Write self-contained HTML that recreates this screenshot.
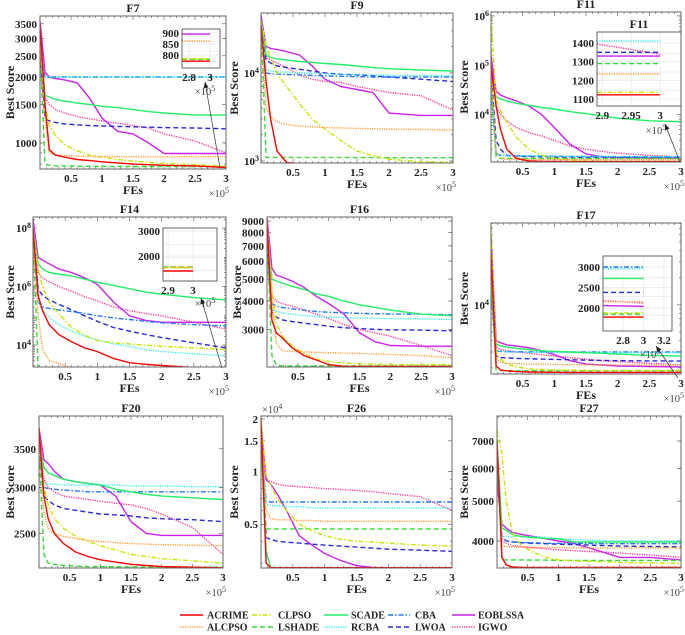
<!DOCTYPE html>
<html><head><meta charset="utf-8"><style>
html,body{margin:0;padding:0;background:#fff;}
svg{display:block;font-family:"Liberation Serif",serif;font-weight:bold;}
</style></head><body>
<svg id="fig" width="685" height="635" viewBox="0 0 685 635" xmlns="http://www.w3.org/2000/svg"></svg>
<script>
const seriesNames = ["ACRIME","ALCPSO","CLPSO","LSHADE","SCADE","RCBA","CBA","LWOA","EOBLSSA","IGWO"];
const xSamples = [0,0.08,0.15,0.25,0.4,0.6,0.8,1,1.25,1.5,1.75,2,2.5,3];
const xTickVals = [0.5,1,1.5,2,2.5,3];
const xTickLabels = ["0.5","1","1.5","2","2.5","3"];

const f7Values = [
[3500,1500,930,880,860,840,830,820,810,800,795,790,785,772],
[3000,1300,900,880,875,870,868,866,865,865,864,864,864,864],
[3000,1500,1200,1080,980,920,880,860,840,825,815,805,795,783],
[2800,800,790,785,785,783,782,781,781,780,780,780,780,780],
[3000,1650,1620,1580,1550,1520,1500,1470,1450,1420,1390,1370,1340,1340],
[2200,2000,2000,2000,2000,2000,2000,2000,2000,2000,2000,2000,2000,2000],
[2600,2000,2000,2000,2000,2000,2000,2000,2000,2000,2000,2000,2000,2000],
[2500,1300,1260,1240,1220,1210,1200,1195,1190,1185,1180,1175,1170,1160],
[3600,2100,2000,1970,1940,1880,1600,1300,1130,1100,1000,895,895,895],
[3000,1600,1500,1420,1370,1320,1290,1260,1230,1200,1170,1100,1020,900]];
const f9Values = [
[35000,8000,3000,1300,960,940,940,940,940,940,940,940,940,940],
[40000,4000,3200,2800,2600,2500,2450,2400,2380,2350,2330,2300,2280,2250],
[40000,20000,15000,10000,7000,4500,3000,2300,1700,1300,1150,1050,980,960],
[40000,1100,1100,1100,1100,1100,1100,1100,1100,1095,1095,1090,1090,1090],
[40000,16000,15000,14500,14000,13500,13200,12800,12500,12000,11500,11200,10800,10500],
[30000,11000,10500,10300,10200,10000,10000,9800,9700,9600,9500,9400,9400,9300],
[30000,10000,9800,9700,9600,9500,9400,9300,9200,9100,9000,9000,9000,9000],
[30000,14000,13000,12000,11500,11000,10500,10000,9700,9500,9300,9000,8500,8000],
[45000,20000,19000,18500,17500,16000,12000,8500,7000,6500,6000,3500,3300,3300],
[45000,15000,14000,13000,11500,9500,8500,8000,7800,7000,6500,6000,5500,3800]];
const f11Values = [
[100000,15000,5000,2000,1300,1150,1130,1125,1122,1122,1122,1122,1122,1122],
[80000,1800,1300,1250,1240,1238,1237,1236,1235,1235,1235,1235,1235,1235],
[1000000,20000,12000,7000,3500,2000,1500,1300,1200,1150,1140,1135,1135,1135],
[50000,1400,1300,1300,1300,1295,1295,1290,1290,1290,1290,1290,1290,1290],
[50000,23000,21000,19000,17000,15500,14000,13000,11500,10500,9500,8500,7500,7200],
[30000,1700,1500,1480,1470,1460,1450,1440,1430,1420,1420,1410,1410,1410],
[30000,1600,1500,1480,1470,1460,1450,1440,1430,1420,1420,1410,1400,1400],
[80000,3000,2000,1500,1450,1420,1400,1390,1380,1370,1365,1360,1355,1350],
[150000,30000,25000,22000,19000,15000,10000,5500,2500,1600,1400,1350,1330,1330],
[200000,15000,10000,7500,5500,4300,3700,3000,2300,2000,1800,1650,1500,1400]];
const f14Values = [
[1e8,5e5,1.5e5,5e4,2.3e4,1.3e4,8e3,6e3,3.5e3,2.5e3,2.2e3,2e3,1.7e3,1.4e3],
[1e8,1e5,7e3,3e3,2.3e3,1.7e3,1.6e3,1.6e3,1.55e3,1.55e3,1.55e3,1.55e3,1.55e3,1.55e3],
[1e8,4e6,1e6,3e5,1.2e5,4e4,2.2e4,1.4e4,1.2e4,1.1e4,1e4,9e3,8e3,7e3],
[1e8,1.6e3,1.56e3,1.56e3,1.56e3,1.56e3,1.56e3,1.56e3,1.56e3,1.56e3,1.56e3,1.56e3,1.56e3,1.56e3],
[1e8,6e6,4e6,3e6,2.7e6,2.3e6,1.8e6,1.4e6,1.1e6,8.5e5,6.5e5,5.5e5,4.2e5,3.5e5],
[1e8,3e5,1.5e5,9e4,5e4,3e4,2e4,1.5e4,1.1e4,9e3,7e3,6e3,5e3,4.3e3],
[1e8,3e5,2e5,1.8e5,1.6e5,1.4e5,1.2e5,1e5,8.5e4,7.5e4,6.5e4,5.8e4,5e4,4.5e4],
[1e8,8e5,5e5,3.5e5,2.5e5,1.6e5,1e5,6.5e4,4e4,3e4,2.3e4,1.8e4,1.2e4,8e3],
[2e8,1e7,8e6,6e6,4e6,3e6,2e6,1.2e6,3e5,1e5,7e4,6e4,6e4,6e4],
[2e8,3e6,2e6,1.5e6,1e6,7e5,4.5e5,3.3e5,2e5,1.5e5,1.2e5,1e5,6e4,3.5e4]];
const f16Values = [
[9000,3300,2900,2750,2500,2300,2200,2100,2060,2060,2060,2060,2060,2060],
[9000,4200,2600,2420,2400,2390,2380,2370,2360,2350,2340,2330,2300,2250],
[9000,4500,3200,2800,2550,2350,2220,2170,2130,2120,2110,2100,2100,2100],
[8000,2300,2100,2070,2070,2070,2070,2070,2070,2070,2070,2070,2070,2070],
[8000,5000,4900,4800,4650,4500,4300,4200,4000,3850,3750,3650,3500,3450],
[6000,3700,3600,3550,3500,3450,3420,3400,3380,3370,3360,3350,3340,3320],
[6000,3900,3800,3750,3700,3650,3600,3570,3550,3530,3520,3510,3500,3480],
[7000,3500,3400,3300,3250,3200,3150,3100,3050,3030,3000,2990,2980,2960],
[9300,5600,5200,5100,4900,4600,4200,3900,3500,2900,2650,2550,2530,2530],
[9000,4200,4000,3900,3800,3650,3500,3350,3150,3000,2900,2800,2550,2300]];
const f17Values = [
[40000,2100,1900,1850,1820,1800,1790,1785,1780,1780,1780,1780,1780,1780],
[40000,2600,2300,2250,2230,2200,2190,2180,2170,2165,2160,2155,2150,2150],
[80000,3000,2500,2200,2050,1950,1920,1900,1890,1880,1875,1870,1870,1870],
[20000,1900,1870,1860,1860,1855,1855,1850,1850,1850,1850,1850,1850,1850],
[20000,3700,3500,3400,3300,3200,3100,3050,3000,2950,2900,2850,2750,2700],
[15000,3100,3050,3000,2990,2980,2975,2970,2965,2960,2960,2955,2950,2950],
[15000,3100,3050,3030,3020,3015,3010,3010,3005,3005,3000,3000,3000,3000],
[15000,2700,2600,2580,2550,2520,2500,2480,2460,2440,2420,2400,2390,2380],
[60000,4000,3800,3600,3500,3350,3100,2800,2400,2200,2150,2100,2070,2050],
[60000,3400,3200,3100,3000,2900,2800,2700,2600,2500,2400,2350,2250,2150]];
const f20Values = [
[3800,2900,2650,2500,2400,2320,2280,2250,2230,2210,2200,2190,2185,2180],
[3800,2700,2550,2500,2470,2450,2430,2420,2410,2400,2395,2390,2385,2380],
[3800,3000,2800,2650,2550,2470,2420,2380,2340,2300,2280,2260,2240,2220],
[3500,2300,2220,2210,2200,2195,2190,2190,2188,2187,2186,2185,2185,2185],
[3600,3250,3180,3150,3100,3070,3050,3030,2980,2950,2920,2900,2880,2860],
[3100,3050,3040,3040,3030,3030,3030,3030,3030,3020,3020,3020,3010,3010],
[3400,3000,2990,2980,2970,2960,2950,2950,2950,2950,2950,2950,2950,2950],
[3500,2900,2850,2800,2760,2740,2720,2700,2690,2680,2660,2650,2640,2620],
[3800,3350,3300,3200,3100,3070,3050,3030,2900,2620,2500,2480,2480,2480],
[3700,3100,3000,2950,2900,2880,2860,2840,2820,2800,2760,2700,2560,2300]];
const f26Values = [
[20000,3000,2820,2820,2820,2820,2820,2820,2820,2820,2820,2820,2820,2820],
[19000,6000,5400,5300,5300,5250,5250,5200,5200,5200,5200,5200,5200,5200],
[20000,9500,8500,7000,6000,5000,4600,4300,4100,4000,3950,3900,3800,3750],
[15000,4700,4700,4700,4700,4700,4700,4700,4700,4700,4700,4700,4700,4700],
[15000,3500,2830,2820,2820,2820,2820,2820,2820,2820,2820,2820,2820,2820],
[15000,6500,6400,6400,6300,6300,6200,6200,6200,6200,6200,6200,6200,6200],
[15000,6800,6700,6700,6700,6700,6700,6700,6700,6700,6700,6700,6700,6700],
[15000,4200,4100,4000,3950,3900,3850,3800,3750,3700,3650,3600,3550,3500],
[18000,9000,8500,7500,6000,4300,3800,3400,3100,2900,2830,2820,2820,2820],
[19000,9000,8800,8500,8300,8200,8100,8000,7900,7800,7700,7500,7200,6000]];
const f27Values = [
[7000,3650,3500,3460,3450,3450,3450,3450,3450,3450,3450,3450,3450,3450],
[6500,3900,3880,3870,3860,3860,3855,3855,3850,3850,3850,3850,3850,3850],
[7500,6500,5000,4200,3900,3750,3650,3600,3580,3570,3560,3550,3540,3530],
[7000,3600,3600,3600,3600,3595,3595,3590,3590,3590,3590,3590,3590,3590],
[7000,4300,4250,4150,4100,4080,4060,4050,3980,3980,3980,3980,3980,3980],
[6000,4100,4100,4100,4100,4100,4080,4060,4030,4020,4010,4000,4000,4000],
[6000,4050,4000,3980,3970,3960,3950,3950,3950,3950,3940,3940,3940,3940],
[6000,4100,4000,3980,3960,3950,3940,3930,3920,3910,3900,3890,3880,3870],
[5500,4400,4300,4200,4150,4100,4050,4000,3950,3850,3750,3650,3650,3600],
[6500,4000,3950,3900,3880,3850,3830,3810,3790,3770,3760,3740,3700,3650]];

const f7Inset = [[772,772],[864,864],[783,783],[780,780],null,null,null,null,[895,895],null];
const f11Inset = [[1122,1122],[1235,1235],[1135,1135],[1290,1290],null,[1410,1410],null,[1350,1350],[1330,1330],[1395,1340]];
const f14Inset = [[1400,1400],[1550,1550],[1530,1530],[1560,1560],null,null,null,null,null,null];
const f17Inset = [[1780,1780],[2150,2150],[1880,1880],[1850,1850],[2720,2720],[2960,2960],[3000,3000],[2380,2380],[2060,2040],[2180,2120]];

const colors = ["#ff0000","#ff9933","#c8e600","#33dd33","#22ee66","#33eeee","#2277ff","#2a2ad8","#cc22ee","#ff3399"];
const dashes = ["", "1.2 1.2", "5 2 1.5 2", "5 3", "", "1.2 1.2", "5 2 1.5 2", "5 3", "", "1.2 1.2"];

const NS="http://www.w3.org/2000/svg";
const svg=document.getElementById('fig');
function el(tag,attrs,parent){const e=document.createElementNS(NS,tag);for(const k in attrs)e.setAttribute(k,attrs[k]);(parent||svg).appendChild(e);return e;}
function txt(s,x,y,size,anchor,parent){const t=el('text',{x:x,y:y,'font-size':size,'text-anchor':anchor||'middle',fill:'#222'},parent);t.textContent=s;return t;}
function pow10Label(g,exp,x,y){const t=el('text',{x:x,y:y,'font-size':11,'text-anchor':'end',fill:'#222'},g);
  
  
  const a=el('tspan',{},t);a.textContent='10';const b=el('tspan',{dy:-4,'font-size':8},t);b.textContent=String(exp);}

const panels=[
 {id:'F7',L:40,R:226,T:16,B:169,ymin:760,ymax:3800,yt:[1000,1500,2000,2500,3000,3500],fmt:'plain',vals:f7Values,ylx:10,
  inset:{L:182,R:220,T:29,B:68,xmin:2.733,xmax:3.095,ymin:741,ymax:918,yt:[800,850,900],xt:[2.8,3],xl:["2.8","3"],vals:f7Inset,xs:205,ys:95,arrow:[220,168,205,82]}},
 {id:'F9',L:261,R:453,T:13,B:163,ymin:950,ymax:48000,yt:[1000,10000],fmt:'pow',vals:f9Values,ylx:234},
 {id:'F11',L:491,R:681,T:12,B:162,ymin:1100,ymax:1200000,yt:[1e4,1e5,1e6],fmt:'pow',vals:f11Values,ylx:464,
  inset:{L:597,R:681,T:32,B:106,xmin:2.891,xmax:3.036,ymin:1062,ymax:1459,yt:[1100,1200,1300,1400],xt:[2.9,2.95,3],xl:["2.9","2.95","3"],vals:f11Inset,xs:656,ys:134,arrow:[680,162,665,124],title:'F11'}},
 {id:'F14',L:33,R:226,T:217,B:367,ymin:1780,ymax:2.4e8,yt:[1e4,1e6,1e8],fmt:'pow',vals:f14Values,ylx:10,
  inset:{L:163,R:217,T:228,B:281,xmin:2.88,xmax:3.096,ymin:1000,ymax:3120,yt:[2000,3000],xt:[2.9,3],xl:["2.9","3"],vals:f14Inset,xs:205,ys:307,arrow:[222,368,201,298]}},
 {id:'F16',L:267,R:452,T:217,B:367,ymin:2050,ymax:9380,yt:[3000,4000,5000,6000,7000,8000,9000],fmt:'plain',vals:f16Values,ylx:237},
 {id:'F17',L:491,R:681,T:223,B:374,ymin:1710,ymax:81000,yt:[1e4],fmt:'pow',vals:f17Values,ylx:464,
  inset:{L:603,R:672,T:256,B:331,xmin:2.605,xmax:3.278,ymin:1439,ymax:3268,yt:[2000,2500,3000],xt:[2.8,3,3.2],xl:["2.8","3","3.2"],vals:f17Inset,xs:650,ys:358,arrow:[678,378,656,346]}},
 {id:'F20',L:39,R:223,T:416,B:568,ymin:2178,ymax:3988,yt:[2500,3000,3500],fmt:'plain',vals:f20Values,ylx:10},
 {id:'F26',L:261,R:452,T:416,B:568,ymin:2810,ymax:20800,yt:[5000,10000,15000,20000],fmt:'e4',vals:f26Values,ylx:234},
 {id:'F27',L:497,R:681,T:416,B:568,ymin:3440,ymax:8050,yt:[4000,5000,6000,7000],fmt:'plain',vals:f27Values,ylx:464}
];

function drawPanel(p,pi){
  const g=el('g',{});
  
  
  const lmin=Math.log10(p.ymin),lmax=Math.log10(p.ymax);
  const sx=x=>p.L+x/3*(p.R-p.L);
  const sy=v=>p.B-(Math.log10(v)-lmin)/(lmax-lmin)*(p.B-p.T);
  const cid='clip'+pi;
  const cp=el('clipPath',{id:cid},g);el('rect',{x:p.L,y:p.T,width:p.R-p.L,height:p.B-p.T},cp);
  const t=txt(p.id,(p.L+p.R)/2,p.T-4,12,'middle',g);
  
  
  const tk=el('g',{stroke:'#555','stroke-width':0.6},g);
  for(let m=0.1;m<3.001;m+=0.1){const X=sx(m);const major=Math.abs(m*2-Math.round(m*2))<1e-6;const len=major?4:2;
    el('line',{x1:X,y1:p.B,x2:X,y2:p.B-len},tk);el('line',{x1:X,y1:p.T,x2:X,y2:p.T+len},tk);}
  for(let d=Math.floor(lmin);d<=Math.ceil(lmax);d++){for(let k=1;k<10;k++){const v=k*Math.pow(10,d);if(v<p.ymin||v>p.ymax)continue;const Y=sy(v);
    el('line',{x1:p.L,y1:Y,x2:p.L+2,y2:Y},tk);el('line',{x1:p.R,y1:Y,x2:p.R-2,y2:Y},tk);}}
  p.yt.forEach(v=>{const Y=sy(v);el('line',{x1:p.L,y1:Y,x2:p.L+4,y2:Y},tk);el('line',{x1:p.R,y1:Y,x2:p.R-4,y2:Y},tk);
    if(p.fmt==='pow'){pow10Label(g,Math.round(Math.log10(v)),p.L-2,Y+4);}
    else{const s=p.fmt==='e4'?String(v/10000):String(v);const tl=txt(s,p.L-3,Y+4,11,'end',g);
      
      }
  });
  xTickVals.forEach((v,i)=>{const tl=txt(xTickLabels[i],sx(v),p.B+13,11,'middle',g);
    
    });
  if(p.fmt==='e4'){const e=el('text',{x:p.L+1,y:p.T-3,'font-size':10.5,'font-weight':'normal',fill:'#444'},g);
    
    
    const a=el('tspan',{},e);a.textContent='×10';const b=el('tspan',{dy:-4,'font-size':8},e);b.textContent='4';}
  const xl=txt('FEs',(p.L+p.R)/2,p.B+25,12,'middle',g);
  
  
  const ex=el('text',{x:p.R+3,y:p.B+28,'font-size':10.5,'font-weight':'normal','text-anchor':'end',fill:'#444'},g);
  
  
  {const a=el('tspan',{},ex);a.textContent='×10';const b=el('tspan',{dy:-4,'font-size':8},ex);b.textContent='5';}
  const yc=(p.T+p.B)/2;
  const yl=el('text',{x:p.ylx,y:yc,'font-size':12,'text-anchor':'middle',fill:'#222',transform:`rotate(-90 ${p.ylx} ${yc})`,dy:4},g);
  yl.textContent='Best Score';
  
  
  const sg=el('g',{'clip-path':`url(#${cid})`},g);
  for(let si=seriesNames.length-1;si>=0;si--){
    const vals=p.vals[si];
    const d=vals.map((v,i)=>(i?'L':'M')+sx(xSamples[i]).toFixed(1)+' '+sy(v).toFixed(1)).join(' ');
    const path=el('path',{d:d,fill:'none',stroke:colors[si],'stroke-width':1.4,'stroke-dasharray':dashes[si]},sg);
    
    
  }
  el('rect',{x:p.L,y:p.T,width:p.R-p.L,height:p.B-p.T,fill:'none',stroke:'#666','stroke-width':1},g);
  if(p.inset)drawInset(p.inset,g,pi);
}

function drawInset(q,parent,pi){
  const g=el('g',{},parent);
  
  
  const ix=x=>q.L+(x-q.xmin)/(q.xmax-q.xmin)*(q.R-q.L);
  const iy=v=>q.B-(v-q.ymin)/(q.ymax-q.ymin)*(q.B-q.T);
  el('rect',{x:q.L,y:q.T,width:q.R-q.L,height:q.B-q.T,fill:'#fff'},g);
  const gr=el('g',{stroke:'#ddd','stroke-width':0.5},g);
  q.xt.forEach(v=>el('line',{x1:ix(v),y1:q.T,x2:ix(v),y2:q.B},gr));
  q.yt.forEach(v=>el('line',{x1:q.L,y1:iy(v),x2:q.R,y2:iy(v)},gr));
  for(let k=1;k<4;k++){const y=q.T+(q.B-q.T)*k/4+3;el('line',{x1:q.L,y1:y,x2:q.R,y2:y},gr);}
  q.yt.forEach(v=>{const t=txt(String(v),q.L-3,iy(v)+4,11,'end',g);
    
    });
  q.xt.forEach((v,i)=>{const t=txt(q.xl[i],ix(v),q.B+13,11,'middle',g);
    
    });
  for(let si=seriesNames.length-1;si>=0;si--){const v=q.vals[si];if(!v)continue;
    const ln=el('line',{x1:q.L,y1:iy(v[0]),x2:ix(3),y2:iy(v[1]),stroke:colors[si],'stroke-width':1.4,'stroke-dasharray':dashes[si]},g);
    
    }
  el('rect',{x:q.L,y:q.T,width:q.R-q.L,height:q.B-q.T,fill:'none',stroke:'#555','stroke-width':0.9},g);
  if(q.title){const t=txt(q.title,(q.L+q.R)/2,q.T-4,12,'middle',g);
    
    }
  const ex=el('text',{x:q.xs,y:q.ys,'font-size':10.5,'font-weight':'normal','text-anchor':'middle',fill:'#444'},g);
  
  
  {const a=el('tspan',{},ex);a.textContent='×10';const b=el('tspan',{dy:-4,'font-size':8},ex);b.textContent='5';}
  const a=q.arrow;
  const ar=el('line',{x1:a[0],y1:a[1],x2:a[2],y2:a[3],stroke:'#333','stroke-width':0.7},g);
  
  
  const ang=Math.atan2(a[3]-a[1],a[2]-a[0]);const L=6,W=2.5;
  const bx=a[2]-L*Math.cos(ang),by=a[3]-L*Math.sin(ang);
  el('polygon',{points:`${a[2]},${a[3]} ${bx-W*Math.sin(ang)},${by+W*Math.cos(ang)} ${bx+W*Math.sin(ang)},${by-W*Math.cos(ang)}`,fill:'#222'},g);
}

panels.forEach(drawPanel);

const legendOrder=[0,2,4,6,8,1,3,5,7,9];
const legCols=[[180,203,207],[252,273,278],[324,348,351],[388,410,415],[452,475,478]];
const leg=el('g',{});


legendOrder.forEach((si,k)=>{const c=legCols[k%5];const y=k<5?618:630;
  const e=el('g',{},leg);
  
  
  el('line',{x1:c[0],y1:y-3,x2:c[1],y2:y-3,stroke:colors[si],'stroke-width':1.4,'stroke-dasharray':dashes[si]},e);
  txt(seriesNames[si],c[2],y+0.5,10,'start',e);
});
</script>
</body></html>
